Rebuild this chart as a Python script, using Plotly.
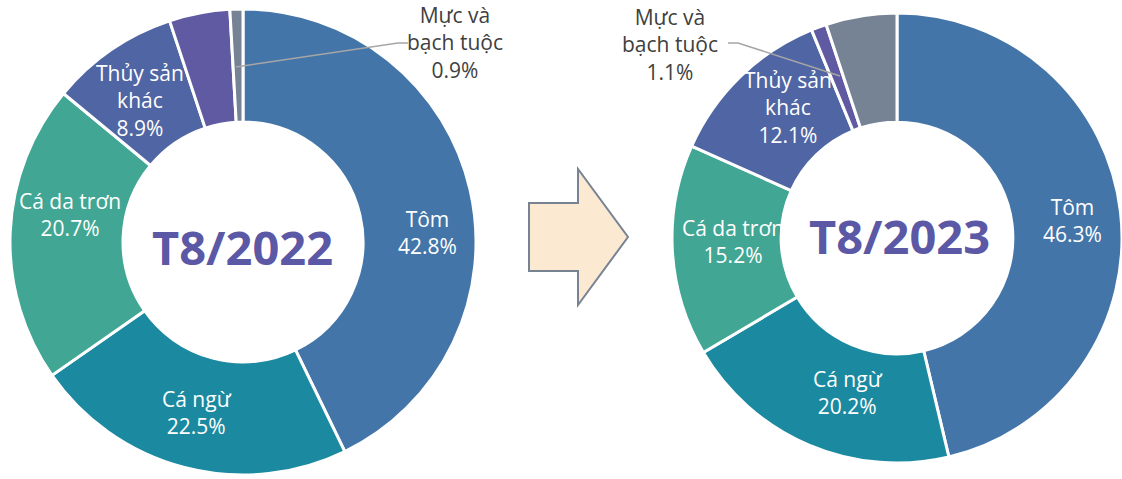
import plotly.graph_objects as go

# OVERVIEW: two donut charts, seafood export structure T8/2022 vs T8/2023

W, H = 1122, 479

###### DATA ######
labels_2022 = ["Tôm", "Cá ngừ", "Cá da trơn", "Thủy sản<br>khác", "Khác", "Mực và<br>bạch tuộc"]
values_2022 = [42.8, 22.5, 20.7, 8.9, 4.2, 0.9]
colors_2022 = ["#4375A8", "#1B89A0", "#41A693", "#5065A3", "#5F5AA2", "#768395"]

labels_2023 = ["Tôm", "Cá ngừ", "Cá da trơn", "Thủy sản<br>khác", "Mực và<br>bạch tuộc", "Khác"]
values_2023 = [46.3, 20.2, 15.2, 12.1, 1.1, 5.1]
colors_2023 = ["#4375A8", "#1B89A0", "#41A693", "#5065A3", "#5F5AA2", "#768395"]

titles = ["T8/2022", "T8/2023"]

FONT = "Open Sans"

# label anchor points in pixels (None = no label inside the slice)
label_pos_2022 = [(427, 232), (197, 412), (70, 214), (140, 101), None, None]
label_pos_2023 = [(1072, 220), (848, 392), (733, 241), (788, 108), None, None]


###### HELPERS ######
def px(x, y):
    """pixel (from top-left) -> paper coords"""
    return x / W, 1 - y / H

def path(points):
    pts = [px(x, y) for x, y in points]
    return "M " + " L ".join(f"{a:.5f},{b:.5f}" for a, b in pts)

def donut(labels, values, colors, dom_x, dom_y):
    return go.Pie(
        labels=labels, values=values,
        marker=dict(colors=colors, line=dict(color="white", width=3)),
        hole=0.515, sort=False, direction="clockwise", rotation=0,
        textinfo="none",
        domain=dict(x=dom_x, y=dom_y),
        showlegend=False, hoverinfo="label+percent",
    )

def slice_labels(labels, values, positions, color="white"):
    out = []
    for lab, v, pos in zip(labels, values, positions):
        if pos is None:
            continue
        x, y = px(*pos)
        out.append(dict(
            x=x, y=y, xref="paper", yref="paper", showarrow=False,
            text=f"{lab}<br>{v:.1f}%", font=dict(family=FONT, size=21, color=color),
            xanchor="center", yanchor="middle", align="center",
        ))
    return out


fig = go.Figure()
fig.add_trace(donut(labels_2022, values_2022, colors_2022, [10 / W, 476 / W], [4 / H, 470 / H]))
fig.add_trace(donut(labels_2023, values_2023, colors_2023, [672 / W, 1.0], [16 / H, 466 / H]))

annotations = []
annotations += slice_labels(labels_2022, values_2022, label_pos_2022)
annotations += slice_labels(labels_2023, values_2023, label_pos_2023)

# outside labels for Mực và bạch tuộc
annotations += slice_labels([labels_2022[5]], [values_2022[5]], [(455, 43)], color="#404040")
annotations += slice_labels([labels_2023[4]], [values_2023[4]], [(670, 44)], color="#404040")

# centre titles
for title, (cx, cy) in zip(titles, [(242, 247), (899, 236)]):
    x, y = px(cx, cy)
    annotations.append(dict(
        x=x, y=y, xref="paper", yref="paper", showarrow=False,
        text=f"<b>{title}</b>", font=dict(family=FONT, size=47, color="#5B58A5"),
        xanchor="center", yanchor="middle",
    ))

shapes = [
    # leader lines
    dict(type="path", xref="paper", yref="paper",
         path=path([(236, 67), (398, 43), (408, 43)]),
         line=dict(color="#A6A6A6", width=1.5)),
    dict(type="path", xref="paper", yref="paper",
         path=path([(728, 43), (738, 43), (840, 76)]),
         line=dict(color="#A6A6A6", width=1.5)),
    # block arrow
    dict(type="path", xref="paper", yref="paper",
         path=path([(529, 203), (578, 203), (578, 169), (628, 237),
                    (578, 305), (578, 271), (529, 271)]) + " Z",
         fillcolor="#FCE9D2", line=dict(color="#778393", width=2)),
]

fig.update_layout(
    width=W, height=H,
    margin=dict(l=0, r=0, t=0, b=0),
    paper_bgcolor="white", plot_bgcolor="white",
    annotations=annotations, shapes=shapes,
    font=dict(family=FONT),
)

# default body margin would shift the figure by 8px and add scrollbars
fig.write_html("out.html", config={"displayModeBar": False},
               post_script="document.body.style.margin='0';")
